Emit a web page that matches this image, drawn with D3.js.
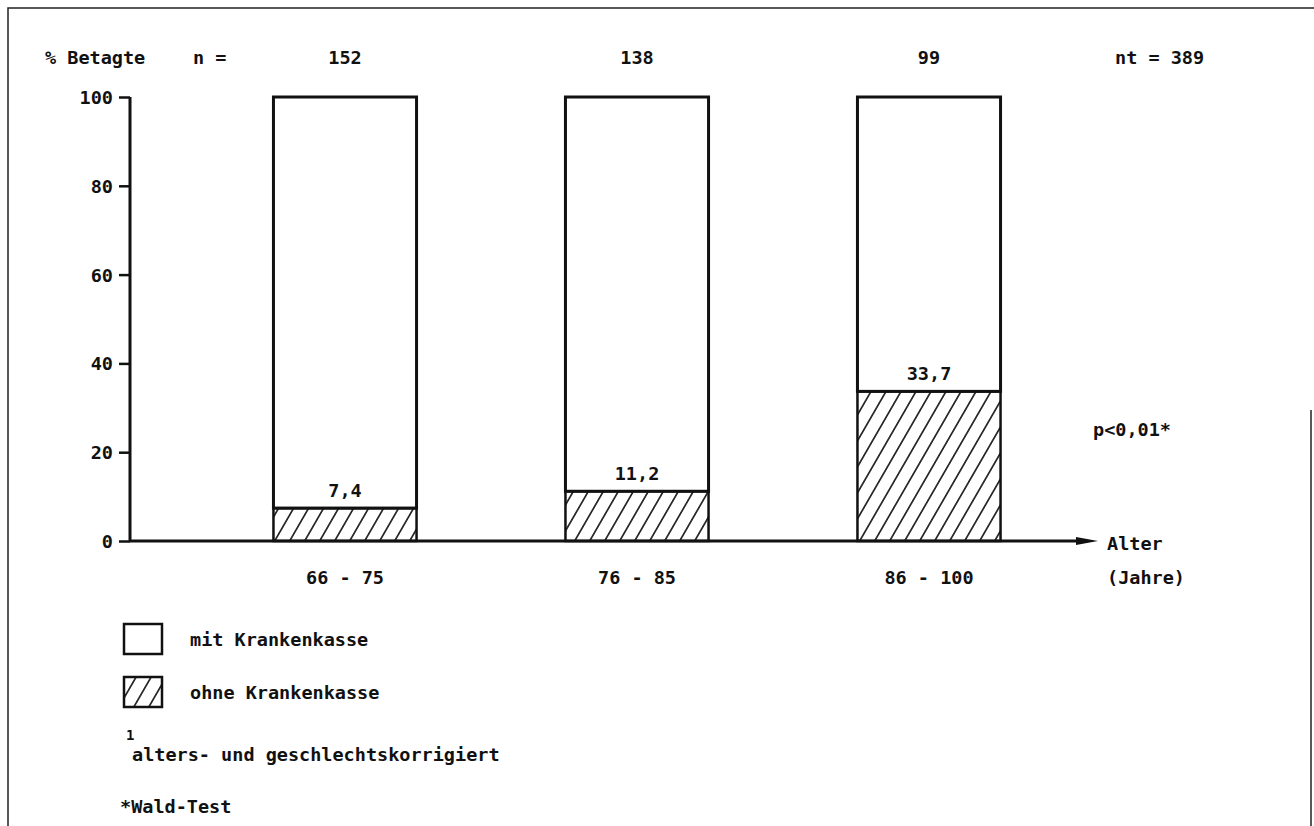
<!DOCTYPE html>
<html><head><meta charset="utf-8">
<script src="https://cdn.jsdelivr.net/npm/d3@7"></script>
<style>
body{margin:0;background:#fff;}
text{font-family:"DejaVu Sans Mono","Liberation Mono",monospace;font-weight:bold;fill:#111;}
</style></head>
<body><svg id="c" width="1314" height="826"></svg>
<script>
const categories = ["66 - 75", "76 - 85", "86 - 100"];
const nValues = [152, 138, 99];
const totalN = 389;
const ohneValues = [7.4, 11.2, 33.7];
const mitValues = [92.6, 88.8, 66.3];
const valueLabels = ["7,4", "11,2", "33,7"];
const yTicks = [0, 20, 40, 60, 80, 100];
const legendLabels = ["mit Krankenkasse", "ohne Krankenkasse"];

const svg = d3.select("#c");
const fs = 18.5;

// frame
svg.append("path").attr("d","M8,826 L8,8 L1314,8").attr("fill","none").attr("stroke","#222").attr("stroke-width",1.5);
svg.append("path").attr("d","M1311,410 L1311,826").attr("fill","none").attr("stroke","#222").attr("stroke-width",1.5);

// hatch pattern
const defs = svg.append("defs");
const pat = defs.append("pattern").attr("id","hatch").attr("patternUnits","userSpaceOnUse")
  .attr("width",15).attr("height",15).attr("patternTransform","skewX(-30)");
pat.append("line").attr("x1",2).attr("y1",0).attr("x2",2).attr("y2",15).attr("stroke","#111").attr("stroke-width",1.8);

const y = d3.scaleLinear().domain([0,100]).range([541,97]);
const x = d3.scaleBand().domain(categories).range([199,1075]).paddingInner(0.51).paddingOuter(0.255);

// bars: white stacked top + hatched bottom
const g = svg.append("g");
categories.forEach((c,i)=>{
  const x0 = x(c), w = x.bandwidth();
  g.append("rect").attr("x",x0).attr("y",y(ohneValues[i]+mitValues[i])).attr("width",w)
    .attr("height",y(ohneValues[i])-y(ohneValues[i]+mitValues[i])).attr("fill","#fff").attr("stroke","#111").attr("stroke-width",3);
  g.append("rect").attr("x",x0).attr("y",y(ohneValues[i])).attr("width",w)
    .attr("height",y(0)-y(ohneValues[i])).attr("fill","url(#hatch)").attr("stroke","#111").attr("stroke-width",2.5);
  g.append("text").attr("x",x0+w/2).attr("y",y(ohneValues[i])-11).attr("text-anchor","middle").attr("font-size",fs).text(valueLabels[i]);
  g.append("text").attr("x",x0+w/2).attr("y",584).attr("text-anchor","middle").attr("font-size",fs).text(c);
  g.append("text").attr("x",x0+w/2).attr("y",64).attr("text-anchor","middle").attr("font-size",fs).text(nValues[i]);
});

// y axis
const ya = svg.append("g").attr("transform","translate(130,0)")
  .call(d3.axisLeft(y).tickValues(yTicks).tickSize(11).tickPadding(6).tickFormat(d3.format("d")));
ya.select(".domain").attr("stroke","#111").attr("stroke-width",3).attr("d","M0,97V541");
ya.selectAll(".tick line").attr("stroke","#111").attr("stroke-width",2.5);
ya.selectAll(".tick text").attr("font-size",fs).attr("font-family",null).attr("dy","0.35em");

// x axis arrow
svg.append("line").attr("x1",130).attr("y1",y(0)).attr("x2",1085).attr("y2",y(0)).attr("stroke","#111").attr("stroke-width",3);
svg.append("path").attr("d",`M1098,${y(0)} L1076,${y(0)-4} L1076,${y(0)+4}Z`).attr("fill","#111");

// annotations
svg.append("text").attr("x",45).attr("y",64).attr("font-size",fs).text("% Betagte");
svg.append("text").attr("x",193).attr("y",64).attr("font-size",fs).text("n =");
svg.append("text").attr("x",1115).attr("y",64).attr("font-size",fs).text("nt = " + totalN);
svg.append("text").attr("x",1093).attr("y",436).attr("font-size",fs).text("p<0,01*");
svg.append("text").attr("x",1107).attr("y",550).attr("font-size",fs).text("Alter");
svg.append("text").attr("x",1107).attr("y",584).attr("font-size",fs).text("(Jahre)");

// legend
const lg = svg.append("g");
lg.append("rect").attr("x",124).attr("y",624).attr("width",38).attr("height",30).attr("fill","#fff").attr("stroke","#111").attr("stroke-width",2.5);
lg.append("rect").attr("x",124).attr("y",677).attr("width",38).attr("height",30).attr("fill","url(#hatch)").attr("stroke","#111").attr("stroke-width",2.5);
lg.append("text").attr("x",190).attr("y",646).attr("font-size",fs).text(legendLabels[0]);
lg.append("text").attr("x",190).attr("y",699).attr("font-size",fs).text(legendLabels[1]);
lg.append("text").attr("x",126).attr("y",740).attr("font-size",14).text("1");
lg.append("text").attr("x",132).attr("y",761).attr("font-size",fs).text("alters- und geschlechtskorrigiert");
lg.append("text").attr("x",120).attr("y",813).attr("font-size",fs).text("*Wald-Test");
</script></body></html>
